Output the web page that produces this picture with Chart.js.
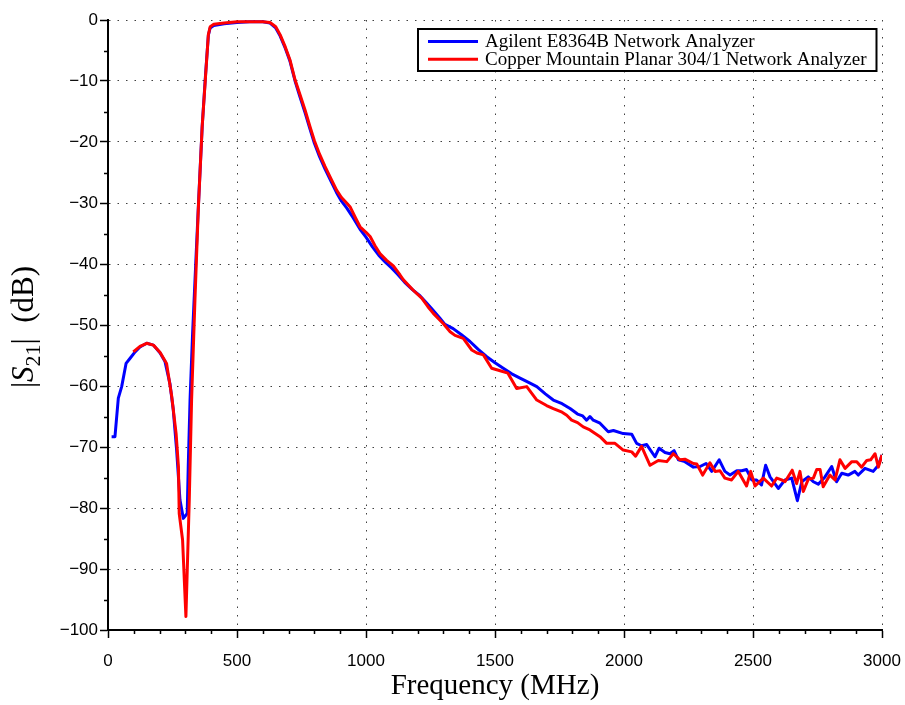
<!DOCTYPE html>
<html>
<head>
<meta charset="utf-8">
<script src="https://cdn.jsdelivr.net/npm/chart.js@4.4.0/dist/chart.umd.min.js"></script>
<style>
    html, body { margin: 0; padding: 0; background: #fff; }
    #chart-wrap { width: 905px; height: 705px; }
</style>
</head>
<body>
<div id="chart-wrap"><canvas id="s21-chart" width="905" height="705"></canvas></div>
<script>
// Agilent E8364B trace (MHz, dB)
var agilentFreq = [
    14, 27, 40, 53, 70, 85, 105, 124, 150, 176,
    202, 221, 240, 253, 266, 279, 292, 307, 311, 318,
    328, 340, 352, 365, 378, 389, 396, 410, 450, 500,
    550, 600, 628, 650, 667, 685, 705, 725, 744, 764,
    783, 800, 820, 841, 865, 886, 905, 925, 950, 977,
    1000, 1025, 1050, 1075, 1100, 1125, 1150, 1180, 1209, 1235,
    1260, 1285, 1306, 1338, 1370, 1403, 1435, 1468, 1500, 1532,
    1565, 1597, 1630, 1662, 1695, 1726, 1760, 1791, 1820, 1840,
    1855, 1868, 1881, 1907, 1939, 1959, 1997, 2030, 2049, 2068,
    2088, 2120, 2136, 2159, 2178, 2194, 2211, 2236, 2269, 2295,
    2318, 2340, 2369, 2391, 2411, 2437, 2456, 2475, 2495, 2514,
    2533, 2549, 2566, 2598, 2624, 2650, 2672, 2689, 2714, 2734,
    2753, 2779, 2805, 2824, 2844, 2869, 2895, 2908, 2934, 2966,
    2986, 3000
];
var agilentDb = [
    -68.3, -68.3, -62.0, -60.1, -56.3, -55.5, -54.4, -53.6, -53.0, -53.3,
    -54.6, -56.0, -59.6, -63.9, -70.5, -78.7, -81.7, -80.9, -73.2, -62.3,
    -51.3, -40.0, -29.0, -17.5, -9.0, -2.5, -1.3, -0.9, -0.6, -0.4,
    -0.3, -0.3, -0.5, -1.3, -2.6, -4.4, -6.7, -10.0, -12.6, -15.2,
    -17.9, -20.2, -22.4, -24.4, -26.5, -28.3, -29.7, -30.8, -32.4, -34.3,
    -35.6, -37.2, -38.6, -39.7, -40.7, -41.8, -43.0, -44.2, -45.2, -46.4,
    -47.6, -48.8, -49.9, -50.6, -51.6, -52.7, -54.0, -55.2, -56.2, -57.1,
    -58.0, -58.7, -59.4, -60.1, -61.3, -62.3, -62.9, -63.7, -64.6, -64.9,
    -65.6, -65.0, -65.6, -66.1, -67.5, -67.3, -67.8, -67.9, -69.4, -69.8,
    -69.6, -71.6, -70.2, -70.9, -71.1, -70.6, -72.1, -72.4, -73.3, -73.2,
    -72.7, -74.0, -72.1, -74.0, -74.6, -73.9, -73.9, -73.7, -75.4, -75.4,
    -76.2, -73.0, -74.9, -76.8, -75.4, -75.1, -78.8, -75.7, -74.9, -75.7,
    -76.1, -74.9, -73.2, -75.7, -74.3, -74.6, -74.0, -74.6, -73.5, -74.0,
    -73.0, -71.3
];

// Copper Mountain Planar 304/1 trace (MHz, dB)
var copperFreq = [
    98, 124, 150, 176, 202, 227, 247, 264, 273, 276,
    289, 302, 315, 324, 337, 350, 365, 378, 389, 396,
    410, 450, 500, 550, 600, 628, 650, 667, 685, 705,
    725, 744, 764, 783, 800, 820, 841, 865, 886, 905,
    925, 938, 960, 977, 1000, 1016, 1035, 1054, 1080, 1106,
    1132, 1145, 1183, 1216, 1240, 1261, 1300, 1326, 1345, 1377,
    1410, 1430, 1455, 1487, 1520, 1550, 1584, 1623, 1662, 1700,
    1726, 1760, 1778, 1797, 1820, 1842, 1868, 1907, 1933, 1965,
    1997, 2030, 2045, 2068, 2101, 2133, 2166, 2191, 2217, 2236,
    2269, 2282, 2305, 2333, 2353, 2372, 2391, 2417, 2443, 2475,
    2491, 2508, 2540, 2572, 2592, 2611, 2624, 2652, 2669, 2682,
    2695, 2714, 2734, 2747, 2760, 2772, 2798, 2818, 2837, 2857,
    2883, 2902, 2921, 2941, 2956, 2973, 2986, 3000
];
var copperDb = [
    -54.4, -53.5, -53.0, -53.3, -54.5, -56.3, -61.7, -67.8, -73.2, -80.9,
    -85.2, -97.8, -78.7, -62.3, -45.9, -31.0, -17.5, -9.3, -2.4, -1.1,
    -0.7, -0.5, -0.3, -0.3, -0.3, -0.4, -1.1, -2.4, -4.2, -6.5,
    -9.8, -12.2, -14.8, -17.5, -19.8, -22.0, -24.0, -26.1, -27.9, -29.1,
    -30.0, -30.6, -32.5, -33.9, -34.8, -35.5, -37.0, -38.3, -39.4, -40.3,
    -41.8, -42.6, -44.3, -45.6, -47.0, -48.1, -49.8, -51.1, -51.7, -52.2,
    -54.1, -54.6, -54.9, -57.1, -57.5, -57.9, -60.4, -60.1, -62.3, -63.2,
    -63.7, -64.3, -64.8, -65.6, -66.0, -66.7, -67.2, -68.3, -69.4, -69.4,
    -70.5, -70.8, -71.5, -69.9, -73.0, -72.2, -72.4, -71.1, -72.1, -72.0,
    -72.7, -72.8, -74.6, -72.6, -74.0, -73.9, -75.1, -75.4, -74.0, -76.4,
    -74.0, -76.4, -75.1, -76.4, -75.1, -75.4, -75.7, -73.8, -76.0, -74.0,
    -77.3, -75.3, -75.1, -73.7, -73.7, -76.5, -74.6, -75.4, -72.1, -73.5,
    -72.4, -72.4, -73.3, -72.2, -72.1, -71.1, -73.3, -71.3
];

var xTicks = [0, 500, 1000, 1500, 2000, 2500, 3000];
var yTicks = [0, -10, -20, -30, -40, -50, -60, -70, -80, -90, -100];
var xMinorStep = 100;
var yMinorStep = 5;

var S21Chart;

function toPoints(xs, ys) {
    var pts = [];
    for (var i = 0; i < xs.length; i++) {
        pts.push({ x: xs[i], y: ys[i] });
    }
    return pts;
}

// minor ticks, boxed legend and the |S21| axis title
var extrasPlugin = {
    id: 'extras',
    afterDraw: function (chart) {
        var ctx = chart.ctx;
        var xs = chart.scales.x;
        var ys = chart.scales.y;
        var area = chart.chartArea;

        ctx.save();
        ctx.strokeStyle = '#000';
        ctx.lineWidth = 1.5;
        ctx.beginPath();
        for (var f = xs.min; f <= xs.max; f += xMinorStep) {
            if (f % 500 === 0) continue;
            var px = Math.round(xs.getPixelForValue(f)) + 0.5;
            ctx.moveTo(px, area.bottom);
            ctx.lineTo(px, area.bottom + 4);
        }
        for (var d = ys.min; d <= ys.max; d += yMinorStep) {
            if (d % 10 === 0) continue;
            var py = Math.round(ys.getPixelForValue(d)) + 0.5;
            ctx.moveTo(area.left - 4, py);
            ctx.lineTo(area.left, py);
        }
        ctx.stroke();
        ctx.restore();

        // legend
        var sets = chart.data.datasets;
        ctx.save();
        ctx.font = '19px "Liberation Serif"';
        var maxW = 0;
        sets.forEach(function (ds) {
            maxW = Math.max(maxW, ctx.measureText(ds.label).width);
        });
        var boxL = 418, boxT = 29, textX = 485;
        var boxR = textX + maxW + 10, boxB = 71;
        ctx.fillStyle = '#fff';
        ctx.fillRect(boxL, boxT, boxR - boxL, boxB - boxT);
        ctx.strokeStyle = '#000';
        ctx.lineWidth = 2;
        ctx.strokeRect(boxL, boxT, boxR - boxL, boxB - boxT);
        ctx.textBaseline = 'middle';
        sets.forEach(function (ds, i) {
            var rowY = 41.5 + i * 17.8;
            ctx.strokeStyle = ds.borderColor;
            ctx.lineWidth = 3;
            ctx.beginPath();
            ctx.moveTo(428, rowY);
            ctx.lineTo(478, rowY);
            ctx.stroke();
            ctx.fillStyle = '#000';
            ctx.fillText(ds.label, textX, rowY + 1);
        });
        ctx.restore();

        // y axis title: |S21| (dB)
        var size = 31;
        var base = size + 'px "Liberation Serif"';
        var parts = [
            { text: '|', font: base, dy: 0 },
            { text: 'S', font: 'italic ' + base, dy: 0 },
            { text: '21', font: Math.round(size * 0.7) + 'px "Liberation Serif"', dy: size * 0.22 },
            { text: '|', font: base, dy: 0 },
            { text: '  (dB)', font: base, dy: 0 }
        ];
        ctx.save();
        var total = 0;
        parts.forEach(function (p) {
            ctx.font = p.font;
            p.w = ctx.measureText(p.text).width;
            total += p.w;
        });
        ctx.translate(33, 327);
        ctx.rotate(-Math.PI / 2);
        ctx.fillStyle = '#000';
        ctx.textBaseline = 'alphabetic';
        var cx = -total / 2;
        parts.forEach(function (p) {
            ctx.font = p.font;
            ctx.fillText(p.text, cx, p.dy);
            cx += p.w;
        });
        ctx.restore();
    }
};

function LoadS21Chart() {
    var ctx = document.getElementById('s21-chart');
    if (S21Chart) {
        S21Chart.destroy();
    }
    var tickFont = { family: '"Liberation Sans", Arial, sans-serif', size: 17 };

    S21Chart = new Chart(ctx, {
        type: 'line',
        data: {
            datasets: [{
                label: 'Agilent E8364B Network Analyzer',
                data: toPoints(agilentFreq, agilentDb),
                borderColor: '#0000ff',
                borderWidth: 3,
                pointRadius: 0,
                tension: 0,
                fill: false,
                borderJoinStyle: 'round',
                order: 1
            }, {
                label: 'Copper Mountain Planar 304/1 Network Analyzer',
                data: toPoints(copperFreq, copperDb),
                borderColor: '#ff0000',
                borderWidth: 3,
                pointRadius: 0,
                tension: 0,
                fill: false,
                borderJoinStyle: 'round',
                order: 0
            }]
        },
        plugins: [extrasPlugin],
        options: {
            responsive: false,
            animation: false,
            events: [],
            devicePixelRatio: 1,
            layout: {
                padding: { left: 0, right: 23, top: 20, bottom: 0 }
            },
            plugins: {
                legend: { display: false },
                tooltip: { enabled: false }
            },
            scales: {
                x: {
                    type: 'linear',
                    min: 0,
                    max: 3000,
                    afterBuildTicks: function (scale) {
                        scale.ticks = xTicks.map(function (v) { return { value: v }; });
                    },
                    afterFit: function (scale) {
                        scale.height = 75;
                        scale.paddingLeft = 0;
                        scale.paddingRight = 0;
                    },
                    ticks: {
                        color: '#000',
                        font: tickFont,
                        padding: 13,
                        maxRotation: 0,
                        autoSkip: false,
                        callback: function (v) {
                            return String(v);
                        }
                    },
                    grid: {
                        color: 'rgba(0,0,0,0.75)',
                        lineWidth: 1,
                        tickLength: 8,
                        tickColor: '#000',
                        tickWidth: 1.5
                    },
                    border: {
                        display: true,
                        color: '#000',
                        width: 2,
                        dash: [1.5, 7]
                    },
                    title: {
                        display: true,
                        text: 'Frequency (MHz)',
                        color: '#000',
                        font: { family: '"Liberation Serif", serif', size: 29 },
                        padding: { top: 0, bottom: 1 }
                    }
                },
                y: {
                    type: 'linear',
                    min: -100,
                    max: 0,
                    afterBuildTicks: function (scale) {
                        scale.ticks = yTicks.map(function (v) { return { value: v }; });
                    },
                    afterFit: function (scale) {
                        scale.width = 108;
                        scale.paddingTop = 0;
                        scale.paddingBottom = 0;
                    },
                    ticks: {
                        color: '#000',
                        font: tickFont,
                        padding: 2,
                        autoSkip: false,
                        callback: function (v) {
                            return v < 0 ? '\u2212' + Math.abs(v) : String(v);
                        }
                    },
                    grid: {
                        color: 'rgba(0,0,0,0.75)',
                        lineWidth: 1,
                        tickLength: 8,
                        tickColor: '#000',
                        tickWidth: 1.5
                    },
                    border: {
                        display: true,
                        color: '#000',
                        width: 2,
                        dash: [1.5, 7]
                    }
                }
            }
        }
    });
}

LoadS21Chart();
</script>
</body>
</html>
